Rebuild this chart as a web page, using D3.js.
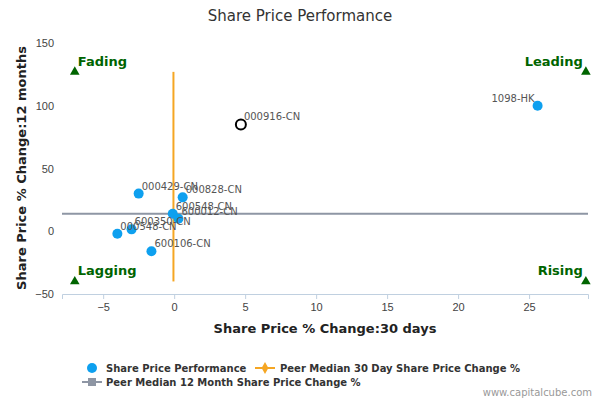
<!DOCTYPE html>
<html><head><meta charset="utf-8">
<script src="https://cdn.jsdelivr.net/npm/d3@7"></script>
<style>body{margin:0;background:#fff;font-family:"DejaVu Sans",sans-serif}</style>
</head><body><svg id="c" width="600" height="400"></svg>
<script>
var names = ["1098-HK","000429-CN","000828-CN","600548-CN","600012-CN","600350-CN","000548-CN","600106-CN"];
var xVals = [25.6,-2.5,0.6,-0.1,0.3,-3.0,-4.0,-1.6];
var yVals = [100,30,27,14,10,1.5,-2,-16];
var focusName = "000916-CN", focusX = 4.7, focusY = 85;
var peerMedian30 = -0.05, peerMedian12 = 14;
var quadNames = ["Fading","Leading","Lagging","Rising"];
var quadX = [-7,29,-7,29], quadY = [127,127,-40,-40];
var xTicks = [-5,0,5,10,15,20,25], yTicks = [-50,0,50,100,150];

var svg = d3.select("#c");
var x = d3.scaleLinear().domain([-7.9,29.15]).range([62,588]);
var y = d3.scaleLinear().domain([-50,150]).range([294,43]);

svg.append("text").attr("x",300).attr("y",21).attr("text-anchor","middle")
  .style("font-size","15px").style("fill","#333").text("Share Price Performance");

// y axis
var ya = svg.append("g").attr("transform","translate(62,0)")
  .call(d3.axisLeft(y).tickValues(yTicks).tickSize(0).tickPadding(8));
ya.select(".domain").remove();
ya.selectAll("text").style("font-size","11px").style("fill","#444");
var xa = svg.append("g").attr("transform","translate(0,294)")
  .call(d3.axisBottom(x).tickValues(xTicks).tickSize(5).tickPadding(4));
xa.select(".domain").attr("stroke","#c0d0e0");
xa.selectAll("line").attr("stroke","#c0d0e0");
xa.selectAll("text").style("font-size","11px").style("fill","#444");

svg.append("text").attr("x",325).attr("y",333).attr("text-anchor","middle")
  .style("font-size","13px").style("font-weight","bold").style("fill","#222").text("Share Price % Change:30 days");
svg.append("text").attr("transform","translate(26,168) rotate(-90)").attr("text-anchor","middle")
  .style("font-size","13px").style("font-weight","bold").style("fill","#222").text("Share Price % Change:12 months");

// peer medians
svg.append("line").attr("x1",62).attr("x2",588).attr("y1",y(peerMedian12)).attr("y2",y(peerMedian12))
  .attr("stroke","#8e96a4").attr("stroke-width",2);
svg.append("line").attr("x1",x(peerMedian30)).attr("x2",x(peerMedian30)).attr("y1",y(127)).attr("y2",y(-40))
  .attr("stroke","#f5a623").attr("stroke-width",2);

// quadrants
quadNames.forEach(function(n,i){
  svg.append("path").attr("d",d3.symbol(d3.symbolTriangle,40)())
    .attr("transform","translate("+x(quadX[i])+","+y(quadY[i])+")").attr("fill","#006400");
  var left = i%2===0;
  svg.append("text").attr("x",x(quadX[i])+(left?3:-3)).attr("y",y(quadY[i])-6)
    .attr("text-anchor",left?"start":"end").style("font-size","13px").style("font-weight","bold")
    .style("fill","#006400").text(n);
});

// points
names.forEach(function(n,i){
  svg.append("circle").attr("cx",x(xVals[i])).attr("cy",y(yVals[i])).attr("r",5).attr("fill","#0ea0ef");
});
names.forEach(function(n,i){
  var r = i===0;
  svg.append("text").attr("x",x(xVals[i])+(r?-3:3)).attr("y",y(yVals[i])-4)
    .attr("text-anchor",r?"end":"start").style("font-size","10px").style("fill","#555").text(n);
});
svg.append("circle").attr("cx",x(focusX)).attr("cy",y(focusY)).attr("r",5)
  .attr("fill","#fff").attr("stroke","#000").attr("stroke-width",2);
svg.append("text").attr("x",x(focusX)+3).attr("y",y(focusY)-5).style("font-size","10px").style("fill","#555").text(focusName);

// legend
var lg = svg.append("g").style("font-size","10px").style("font-weight","bold").style("fill","#333");
lg.append("circle").attr("cx",92).attr("cy",368).attr("r",5).attr("fill","#0ea0ef");
lg.append("text").attr("x",106).attr("y",372).text("Share Price Performance");
lg.append("line").attr("x1",255).attr("x2",275).attr("y1",368).attr("y2",368).attr("stroke","#f5a623").attr("stroke-width",2);
lg.append("path").attr("d",d3.symbol(d3.symbolDiamond,40)()).attr("transform","translate(265,368)").attr("fill","#f5a623");
lg.append("text").attr("x",280).attr("y",372).text("Peer Median 30 Day Share Price Change %");
lg.append("line").attr("x1",82).attr("x2",102).attr("y1",382).attr("y2",382).attr("stroke","#8e96a4").attr("stroke-width",2);
lg.append("rect").attr("x",88).attr("y",378).attr("width",8).attr("height",8).attr("fill","#8e96a4");
lg.append("text").attr("x",106).attr("y",386).text("Peer Median 12 Month Share Price Change %");

svg.append("text").attr("x",592).attr("y",396).attr("text-anchor","end").style("font-size","10px")
  .style("fill","#999").text("www.capitalcube.com");
</script></body></html>
